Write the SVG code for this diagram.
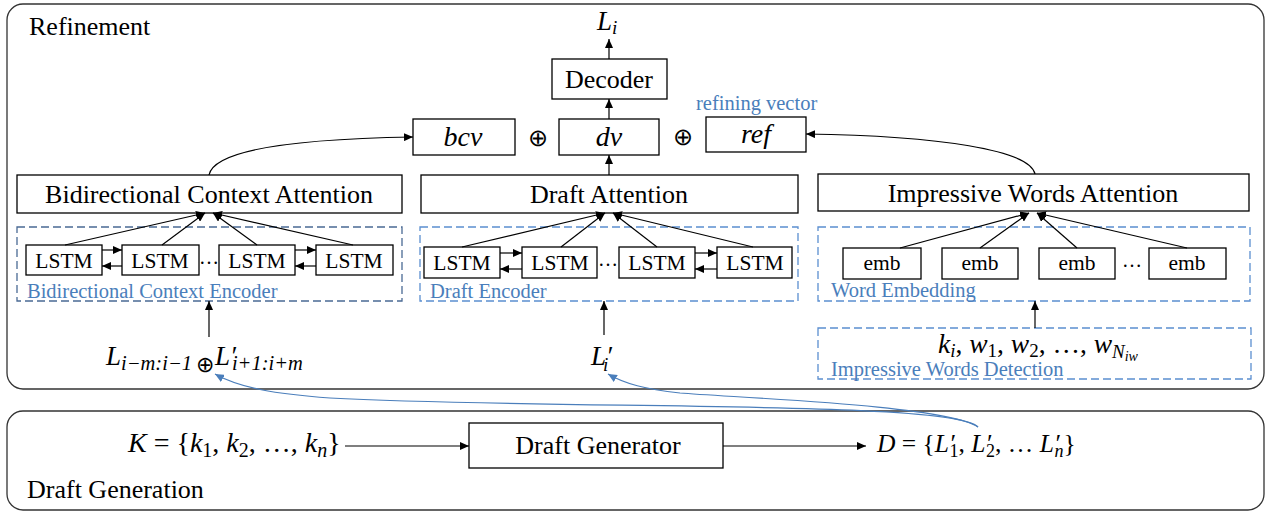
<svg xmlns="http://www.w3.org/2000/svg" width="1270" height="512" viewBox="0 0 1270 512">
<defs>
<marker id="ah" markerWidth="9" markerHeight="8" refX="9" refY="4" orient="auto" markerUnits="userSpaceOnUse"><path d="M0,0 L9,4 L0,8 z" fill="#000"/></marker>
<marker id="ahb" markerWidth="9" markerHeight="8" refX="9" refY="4" orient="auto" markerUnits="userSpaceOnUse"><path d="M0,0 L9,4 L0,8 z" fill="#4a7ebb"/></marker>
<style>
.frame{fill:#fff;stroke:#333;stroke-width:1.3}
.box{fill:#fff;stroke:#000;stroke-width:1.3}
.dash{fill:none;stroke:#5b8fd0;stroke-width:1.3;stroke-dasharray:8 4}
.t{font-family:"Liberation Serif","Times New Roman",serif;fill:#000}
.b{font-family:"Liberation Serif","Times New Roman",serif;fill:#4a7ebb;font-size:20.5px}
.m{font-family:"Liberation Serif","Times New Roman",serif;font-style:italic;fill:#000}
.n{font-style:normal}
.c{text-anchor:middle}
.ln{fill:none;stroke:#000;stroke-width:1.2;marker-end:url(#ah)}
.bl{fill:none;stroke:#4a7ebb;stroke-width:1.2;marker-end:url(#ahb)}
</style>
</defs>

<g id="refinement">
<rect class="frame" x="7" y="4" width="1257" height="385" rx="16"/>
<text class="t" x="29" y="35" font-size="26">Refinement</text>
</g>
<g id="draft-generation">
<rect class="frame" x="7" y="411" width="1257" height="99" rx="16"/>
<text class="t" x="27" y="498" font-size="26">Draft Generation</text>
</g>

<g id="Li-top"><text class="m" x="597" y="30" font-size="27">L<tspan font-size="19" dy="4">i</tspan></text></g>

<g id="decoder"><rect class="box" x="552" y="59" width="115" height="40"/><text class="t c" x="609" y="88" font-size="26">Decoder</text></g>

<g id="bcv"><rect class="box" x="413" y="119" width="102" height="36"/><text class="m c" x="463" y="146" font-size="28">bcv</text></g>
<g id="oplus1"><text class="t c" x="538" y="146" font-size="24">⊕</text></g>
<g id="dv"><rect class="box" x="559" y="119" width="100" height="36"/><text class="m c" x="609" y="146" font-size="28">dv</text></g>
<g id="oplus2"><text class="t c" x="683" y="145" font-size="24">⊕</text></g>
<g id="ref"><rect class="box" x="706" y="117" width="100" height="35"/><text class="m c" x="756" y="143" font-size="28">ref</text>
<text class="b" x="696" y="110">refining vector</text></g>

<g id="bca"><rect class="box" x="17" y="175" width="385" height="38"/><text class="t c" x="209" y="203" font-size="26">Bidirectional Context Attention</text></g>
<g id="da"><rect class="box" x="421" y="175" width="377" height="38"/><text class="t c" x="609" y="203" font-size="26">Draft Attention</text></g>
<g id="iwa"><rect class="box" x="818" y="174" width="431" height="37"/><text class="t c" x="1033" y="202" font-size="26">Impressive Words Attention</text></g>

<g id="bce">
<rect class="dash" x="17" y="227" width="385" height="74" style="stroke:#4a6a94"/>
<text class="b" x="27" y="298">Bidirectional Context Encoder</text>
<rect class="box" x="26" y="245" width="76" height="30"/><text class="t c" x="64" y="267.5" font-size="21.5">LSTM</text>
<rect class="box" x="122" y="245" width="77" height="30"/><text class="t c" x="160" y="267.5" font-size="21.5">LSTM</text>
<text class="t c" x="209" y="264" font-size="20">…</text>
<rect class="box" x="219" y="245" width="76" height="30"/><text class="t c" x="257" y="267.5" font-size="21.5">LSTM</text>
<rect class="box" x="316" y="245" width="77" height="30"/><text class="t c" x="354" y="267.5" font-size="21.5">LSTM</text>
</g>

<g id="de">
<rect class="dash" x="420" y="227" width="378" height="74"/>
<text class="b" x="430" y="298">Draft Encoder</text>
<rect class="box" x="424" y="247" width="76" height="31"/><text class="t c" x="462" y="270" font-size="21.5">LSTM</text>
<rect class="box" x="522" y="247" width="75" height="31"/><text class="t c" x="560" y="270" font-size="21.5">LSTM</text>
<text class="t c" x="608" y="266" font-size="20">…</text>
<rect class="box" x="619" y="247" width="76" height="31"/><text class="t c" x="657" y="270" font-size="21.5">LSTM</text>
<rect class="box" x="717" y="247" width="75" height="31"/><text class="t c" x="755" y="270" font-size="21.5">LSTM</text>
</g>

<g id="we">
<rect class="dash" x="818" y="227" width="432" height="74"/>
<text class="b" x="831" y="297">Word Embedding</text>
<rect class="box" x="843" y="248" width="78" height="31"/><text class="t c" x="882" y="270" font-size="21.5">emb</text>
<rect class="box" x="942" y="248" width="76" height="31"/><text class="t c" x="980" y="270" font-size="21.5">emb</text>
<rect class="box" x="1039" y="248" width="76" height="31"/><text class="t c" x="1077" y="270" font-size="21.5">emb</text>
<text class="t c" x="1132" y="267" font-size="20">…</text>
<rect class="box" x="1149" y="248" width="77" height="31"/><text class="t c" x="1187" y="270" font-size="21.5">emb</text>
</g>

<g id="iwd">
<rect class="dash" x="818" y="328" width="433" height="51"/>
<text class="b" x="831" y="376">Impressive Words Detection</text>
<text class="m" x="938" y="353" font-size="27.5">k<tspan font-size="19" dy="4">i</tspan><tspan class="n" dy="-4">, </tspan>w<tspan class="n" font-size="19" dy="4">1</tspan><tspan class="n" dy="-4">, </tspan>w<tspan class="n" font-size="19" dy="4">2</tspan><tspan class="n" dy="-4">, …, </tspan>w<tspan font-size="19" dy="5">N</tspan><tspan font-size="14" dy="3">iw</tspan></text>
</g>

<g id="ctx-input">
<text class="m" x="106" y="365" font-size="27">L<tspan font-size="20.5" dy="5">i−m:i−1</tspan><tspan class="n" font-size="22" dx="4" dy="2">⊕</tspan><tspan dx="1" dy="-7">L′</tspan><tspan font-size="20.5" dx="-4" dy="5">i+1:i+m</tspan></text>
</g>

<g id="draft-input">
<text class="m" x="591" y="365" font-size="27">L′<tspan font-size="19" dx="-9" dy="6">i</tspan></text>
</g>

<g id="K-set">
<text class="m" x="128" y="452" font-size="28">K<tspan class="n"> = {</tspan>k<tspan class="n" font-size="20" dy="5">1</tspan><tspan class="n" dy="-5">, </tspan>k<tspan class="n" font-size="20" dy="5">2</tspan><tspan class="n" dy="-5">, …, </tspan>k<tspan font-size="20" dy="5">n</tspan><tspan class="n" dy="-5">}</tspan></text>
</g>

<g id="draft-generator"><rect class="box" x="469" y="423" width="254" height="45"/><text class="t c" x="598" y="454" font-size="26">Draft Generator</text></g>

<g id="D-set">
<text class="m" x="877" y="452" font-size="25.5">D<tspan class="n"> = {</tspan>L′<tspan class="n" font-size="18" dx="-5" dy="5">1</tspan><tspan class="n" dy="-5">, </tspan>L′<tspan class="n" font-size="18" dx="-5" dy="5">2</tspan><tspan class="n" dy="-5">, … </tspan>L′<tspan font-size="18" dx="-5" dy="5">n</tspan><tspan class="n" dy="-5">}</tspan></text>
</g>

<g id="connectors">
<line class="ln" x1="609" y1="59" x2="609" y2="39"/>
<line class="ln" x1="609" y1="119" x2="609" y2="99"/>
<line class="ln" x1="609" y1="175" x2="609" y2="155"/>
<path class="ln" d="M209,175 C214,150 290,139 413,137"/>
<path class="ln" d="M1035,174 C1030,150 940,136 806,134"/>
<line class="ln" x1="65" y1="245" x2="205" y2="213"/>
<line class="ln" x1="162" y1="245" x2="205" y2="213"/>
<line class="ln" x1="257" y1="245" x2="213" y2="213"/>
<line class="ln" x1="353" y1="245" x2="213" y2="213"/>
<line class="ln" x1="102" y1="250" x2="122" y2="250"/>
<line class="ln" x1="122" y1="266" x2="102" y2="266"/>
<line class="ln" x1="295" y1="250" x2="316" y2="250"/>
<line class="ln" x1="316" y1="266" x2="295" y2="266"/>
<line class="ln" x1="209" y1="337" x2="209" y2="301"/>
<line class="ln" x1="462" y1="247" x2="605" y2="213"/>
<line class="ln" x1="561" y1="247" x2="605" y2="213"/>
<line class="ln" x1="657" y1="247" x2="613" y2="213"/>
<line class="ln" x1="753" y1="247" x2="613" y2="213"/>
<line class="ln" x1="500" y1="253" x2="522" y2="253"/>
<line class="ln" x1="522" y1="269" x2="500" y2="269"/>
<line class="ln" x1="695" y1="253" x2="717" y2="253"/>
<line class="ln" x1="717" y1="269" x2="695" y2="269"/>
<line class="ln" x1="604" y1="335" x2="604" y2="301"/>
<line class="ln" x1="900" y1="248" x2="1029" y2="213"/>
<line class="ln" x1="980" y1="248" x2="1029" y2="213"/>
<line class="ln" x1="1077" y1="248" x2="1037" y2="213"/>
<line class="ln" x1="1187" y1="248" x2="1037" y2="213"/>
<line class="ln" x1="1035" y1="328" x2="1035" y2="301"/>
<line class="ln" x1="345" y1="446" x2="469" y2="446"/>
<line class="ln" x1="723" y1="446" x2="866" y2="446"/>
<path class="bl" d="M978,427 C955,400 560,410 330,398 C275,394 240,388 215,374"/>
<path class="bl" d="M978,427 C945,405 740,398 680,393 C645,389 625,384 608,374"/>
</g>
</svg>
